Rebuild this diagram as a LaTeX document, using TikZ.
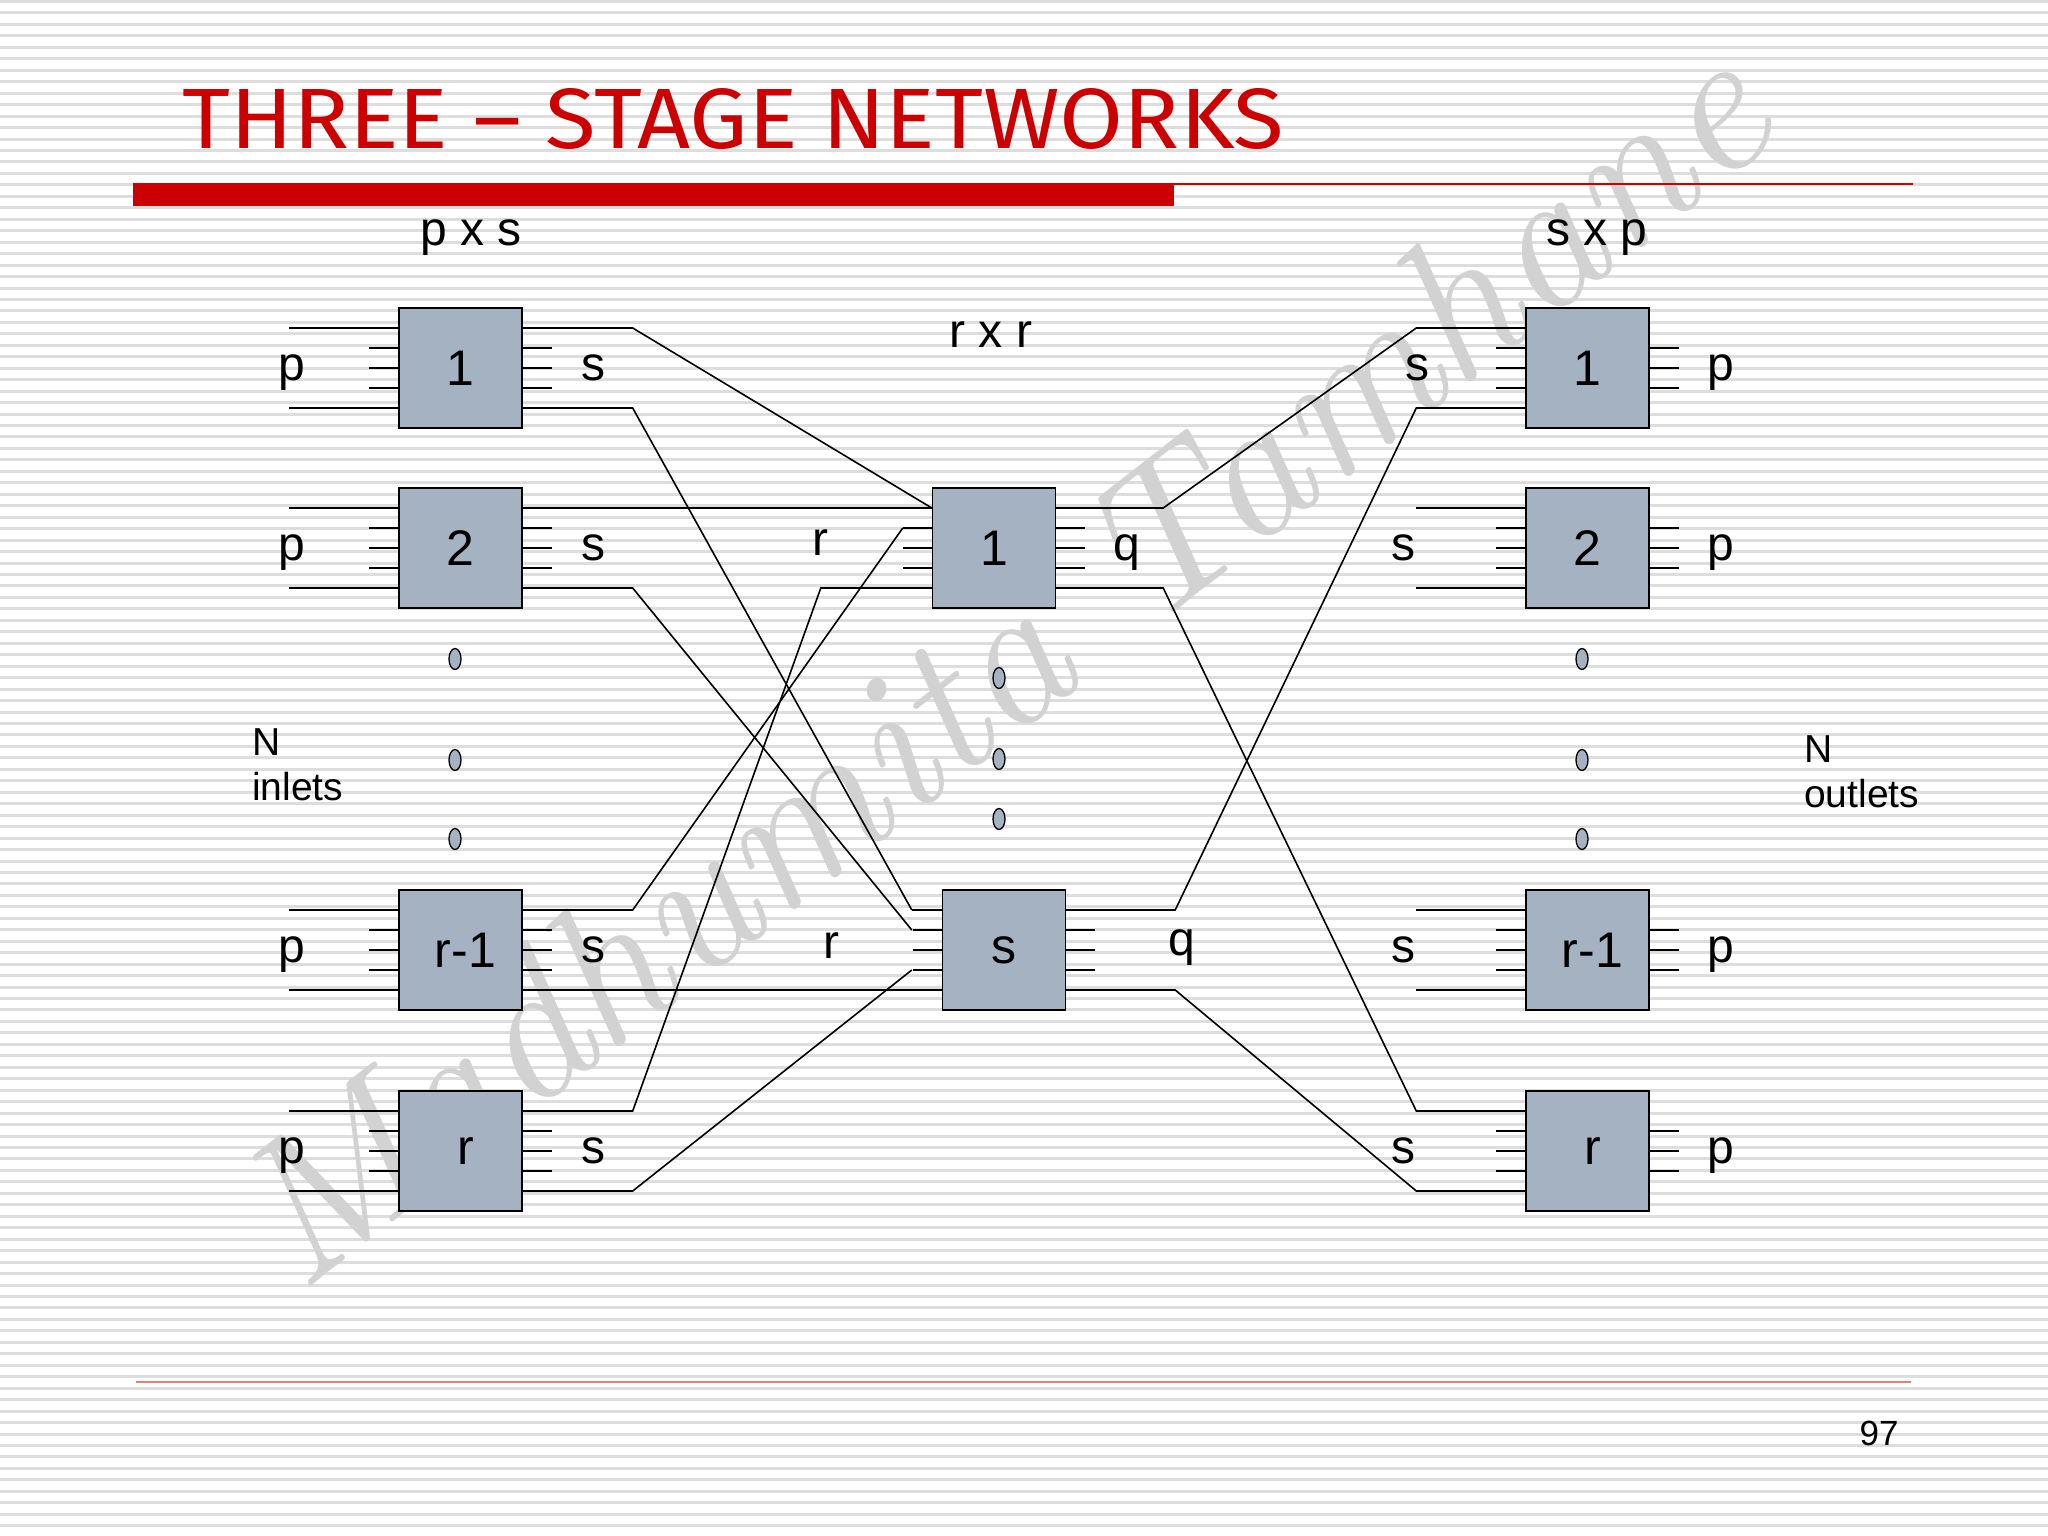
\documentclass[tikz,border=0pt]{standalone}
\usepackage{graphicx}
\usepackage{fontspec}
\newfontfamily\arialfont{Liberation Sans}
\newfontfamily\titlefont{Fira Sans}
\usetikzlibrary{calc,positioning,shapes.geometric}
\definecolor{boxfill}{RGB}{164,178,194}
\definecolor{titlered}{RGB}{204,0,0}
\definecolor{rulepink}{RGB}{222,130,130}
\definecolor{stripegray}{RGB}{221,221,221}
\definecolor{markgray}{RGB}{210,210,210}
\tikzset{
  switchbox/.style={shape=rectangle,draw,line width=1.4pt,fill=boxfill,minimum width=123pt,minimum height=120pt,inner sep=0pt,font=\arialfont\fontsize{50}{50}\selectfont},
  lbl/.style={anchor=base,inner sep=0pt,font=\arialfont\fontsize{48}{48}\selectfont},
  smalllbl/.style={anchor=base west,inner sep=0pt,font=\arialfont\fontsize{39}{39}\selectfont},
  wire/.style={line width=1.6pt},
  dotmark/.style={shape=ellipse,draw,line width=1.3pt,fill=boxfill,minimum width=12pt,minimum height=21pt,inner sep=0pt}
}
\begin{document}
\begin{tikzpicture}[x=1pt,y=-1pt]
\useasboundingbox (0,0) rectangle (2048,1536);
\fill[white] (0,0) rectangle (2048,1536);
\foreach \k in {0,...,134}
  \draw[stripegray,line width=3pt] (0,{1.5+\k*11.46}) -- (2048,{1.5+\k*11.46});

\node[rotate=38,anchor=base west,inner sep=0pt,text=markgray] (mark) at (300,1295) {\resizebox{1880pt}{!}{\itshape Madhumita Tamhane}};

\node[anchor=south west,inner sep=0pt,text=titlered] (title) at (182,150) {\resizebox{1102pt}{60pt}{\titlefont THREE – STAGE NETWORKS}};
\fill[titlered] (133,183) rectangle (1174,206);
\draw[titlered,line width=2pt] (1174,184) -- (1913,184);
\draw[rulepink,line width=1.5pt] (136,1382) -- (1911,1382);
\node[anchor=base,inner sep=0pt,font=\arialfont\fontsize{35}{35}\selectfont] (page) at (1879,1445) {97};

\node[switchbox] (L1) at (460.5,368) {1};
\node[switchbox] (L2) at (460.5,548) {2};
\node[switchbox,text width=123pt,align=center] (L3) at (460.5,950) {\hspace*{10pt}r-1};
\node[switchbox,text width=123pt,align=center] (L4) at (460.5,1151) {\hspace*{10pt}r};
\node[switchbox] (M1) at (994,548) {1};
\node[switchbox] (M2) at (1004,950) {s};
\node[switchbox] (R1) at (1587.5,368) {1};
\node[switchbox] (R2) at (1587.5,548) {2};
\node[switchbox,text width=123pt,align=center] (R3) at (1587.5,950) {\hspace*{10pt}r-1};
\node[switchbox,text width=123pt,align=center] (R4) at (1587.5,1151) {\hspace*{10pt}r};

\foreach \b in {L1,L2,L3,L4,M1,M2,R1,R2,R3,R4}
  \foreach \k/\d in {1/-40,2/-20,3/0,4/20,5/40} {
    \coordinate (\b-w\k) at ($(\b.west)+(0,\d)$);
    \coordinate (\b-e\k) at ($(\b.east)+(0,\d)$);
  }

\foreach \b in {L1,L2,L3,L4,M1,M2,R1,R2,R3,R4}
  \foreach \k in {2,3,4} {
    \draw[wire] (\b-w\k) -- ++(-29,0);
    \draw[wire] (\b-e\k) -- ++(29,0);
  }
\draw[wire] (M2-w1) -- ++(-30,0);
\foreach \b in {L1,L2,L3,L4} {
  \draw[wire] (\b-w1) -- ++(-109,0);
  \draw[wire] (\b-w5) -- ++(-109,0);
}
\foreach \b in {R2,R3} {
  \draw[wire] (\b-w1) -- ++(-109,0);
  \draw[wire] (\b-w5) -- ++(-109,0);
}

\draw[wire] (L1-e1) -- ++(110,0) -- (M1-w1);
\draw[wire] (L1-e5) -- ++(110,0) -- ($(M2-w1)+(-30,0)$);
\draw[wire] (L2-e1) -- (M1-w1);
\draw[wire] (L2-e5) -- ++(110,0) -- ($(M2-w2)+(-30,0)$);
\draw[wire] (L3-e1) -- ++(110,0) -- ($(M1-w2)+(-29,0)$);
\draw[wire] (L3-e5) -- (M2-w5);
\draw[wire] (L4-e1) -- ++(110,0) -- ($(M1-w5)+(-111,0)$) -- (M1-w5);
\draw[wire] (L4-e5) -- ++(110,0) -- ($(M2-w4)+(-30,0)$);
\draw[wire] (M1-e1) -- ++(107,0) -- ($(R1-w1)+(-109,0)$) -- (R1-w1);
\draw[wire] (M1-e5) -- ++(107,0) -- ($(R4-w1)+(-109,0)$) -- (R4-w1);
\draw[wire] (M2-e1) -- ++(109,0) -- ($(R1-w5)+(-109,0)$) -- (R1-w5);
\draw[wire] (M2-e5) -- ++(109,0) -- ($(R4-w5)+(-109,0)$) -- (R4-w5);

\node[dotmark] (dotL1) at (455,659) {};
\node[dotmark] (dotL2) at (455,760) {};
\node[dotmark] (dotL3) at (455,839) {};
\node[dotmark] (dotM1) at (999,678) {};
\node[dotmark] (dotM2) at (999,759) {};
\node[dotmark] (dotM3) at (999,819) {};
\node[dotmark] (dotR1) at (1582,659) {};
\node[dotmark] (dotR2) at (1582,760) {};
\node[dotmark] (dotR3) at (1582,839) {};

\node[lbl] (headL) at (471,245) {p x s};
\node[lbl] (headM) at (991,347) {r x r};
\node[lbl] (headR) at (1597,245) {s x p};

\node[lbl] (pL1) at (292,380) {p};
\node[lbl] (pL2) at (292,560) {p};
\node[lbl] (pL3) at (292,962) {p};
\node[lbl] (pL4) at (292,1163) {p};
\node[lbl] (sL1) at (593,380) {s};
\node[lbl] (sL2) at (593,560) {s};
\node[lbl] (sL3) at (593,962) {s};
\node[lbl] (sL4) at (593,1163) {s};
\node[lbl] (rM1) at (820,555) {r};
\node[lbl] (rM2) at (831,958) {r};
\node[lbl] (qM1) at (1127,560) {q};
\node[lbl] (qM2) at (1182,955) {q};
\node[lbl] (sR1) at (1417,380) {s};
\node[lbl] (sR2) at (1403,560) {s};
\node[lbl] (sR3) at (1403,962) {s};
\node[lbl] (sR4) at (1403,1163) {s};
\node[lbl] (pR1) at (1721,380) {p};
\node[lbl] (pR2) at (1721,560) {p};
\node[lbl] (pR3) at (1721,962) {p};
\node[lbl] (pR4) at (1721,1163) {p};

\node[smalllbl] (nin) at (252,755) {N};
\node[smalllbl] (inlets) at (252,800) {inlets};
\node[smalllbl] (nout) at (1804,762) {N};
\node[smalllbl] (outlets) at (1804,807) {outlets};
\end{tikzpicture}
\end{document}
